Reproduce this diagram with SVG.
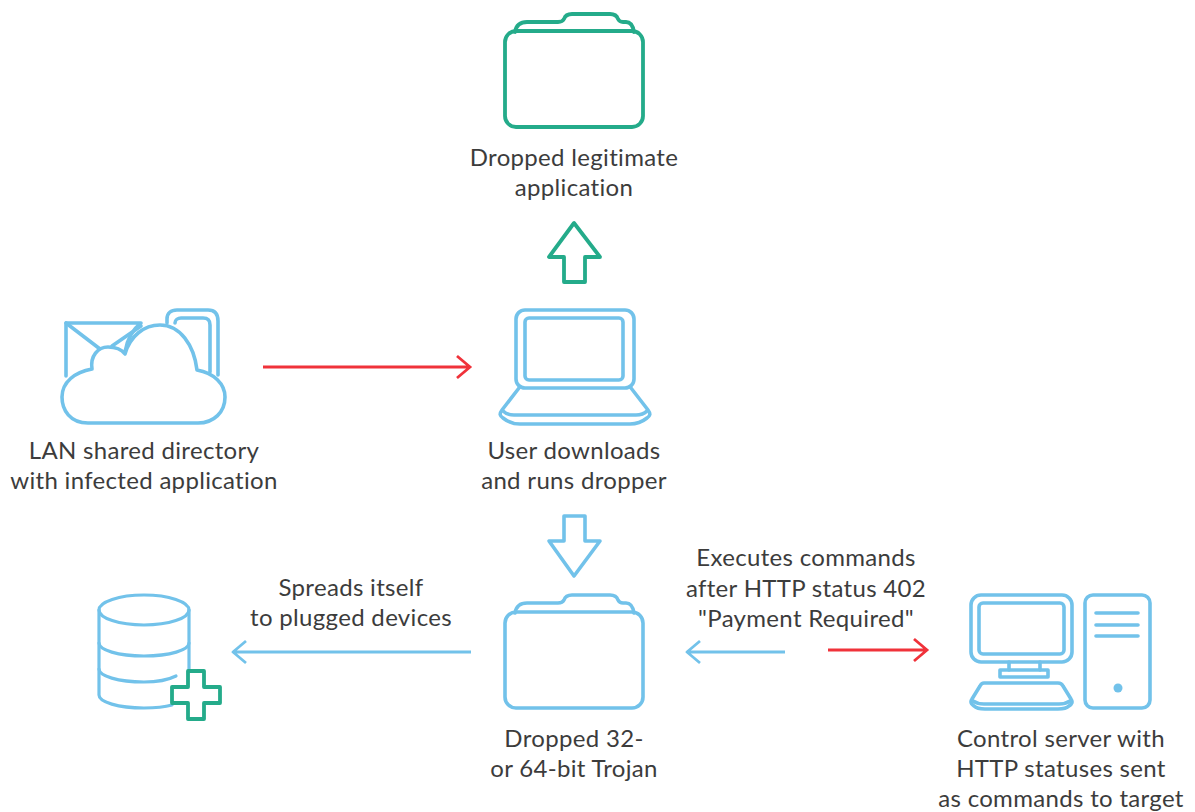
<svg xmlns="http://www.w3.org/2000/svg" width="1195" height="812" viewBox="0 0 1195 812">
<style>
.b{fill:none;stroke:#72c2ea;stroke-width:3.6;stroke-linejoin:round;stroke-linecap:round}
.g{fill:none;stroke:#24ab8a;stroke-width:3.8;stroke-linejoin:round;stroke-linecap:round}
.w{fill:#fff}
.r{fill:none;stroke:#f0323a;stroke-width:2.8}
.a{stroke-width:2.8;stroke-linecap:butt}
.t{font-family:"Lato","Liberation Sans",sans-serif;font-size:24px;letter-spacing:.32px;fill:#3c3c3c;text-anchor:middle}
</style>
<rect width="1195" height="812" fill="#fff"/>
<g id="legit-folder">
<path class="g" d="M515 32C516 26 520 22 527 22H558C562 22 563 21 564 19C565 16 568 14 572 14H610C614 14 617 16 618 19C619 21 620 22 623 22H626C630 22 633 26 634 32"/>
<rect class="g" x="505" y="31" width="138" height="96" rx="11"/>
<text class="t" x="574" y="166">Dropped legitimate</text>
<text class="t" x="574" y="196">application</text>
</g>
<g id="up-arrow"><path class="g" d="M574 223L549 257H564V282H585V257H600Z"/></g>
<g id="lan-directory">
<path class="b" d="M167 323V319C167 313 171 310 177 310H208C215 310 218 314 218 321V375"/>
<path class="b" d="M175 323C175 320 178 318 181 318H203C208 318 210 320 210 325V372"/>
<path class="b" d="M66 376V323H141C132 330 127 340 125 352"/>
<path class="b" d="M66 323L100 349M141 326L112 346"/>
<path class="b w" d="M88 423C70 423 62 410 62 397C62 382 75 372 92 369C90 356 98 347 108 347C116 347 122 350 125 354C130 336 144 325 160 325C180 325 194 345 197 370C214 373 225 384 225 397C225 412 214 423 198 423Z"/>
<text class="t" x="144" y="459">LAN shared directory</text>
<text class="t" x="144" y="489">with infected application</text>
</g>
<g id="laptop">
<rect class="b" x="516" y="310" width="118" height="78" rx="9"/>
<rect class="b" x="525" y="318" width="98" height="62" rx="4"/>
<path class="b" d="M519 388L502 410C499 414 500 416 503 418C508 422 512 424 520 424H630C638 424 642 422 647 418C650 416 651 414 648 410L631 388"/>
<path class="b" d="M503 411C506 414 510 415 514 415H636C640 415 644 414 647 411"/>
<text class="t" x="574" y="459">User downloads</text>
<text class="t" x="574" y="489">and runs dropper</text>
</g>
<g id="down-arrow"><path class="b" d="M574 576L549 541H564V516H585V541H600Z"/></g>
<g id="trojan-folder">
<path class="b" d="M515 613C516 607 520 603 527 603H558C562 603 563 602 564 600C565 597 568 595 572 595H610C614 595 617 597 618 600C619 602 620 603 623 603H626C630 603 633 607 634 613"/>
<rect class="b" x="505" y="612" width="138" height="96" rx="11"/>
<text class="t" x="574" y="747">Dropped 32-</text>
<text class="t" x="574" y="777">or 64-bit Trojan</text>
</g>
<g id="storage">
<ellipse class="b" cx="144" cy="610" rx="45" ry="15" style="stroke-width:3.2"/>
<path class="b" style="stroke-width:3.2" d="M99 610V695C99 702 118 708 144 708C155 708 165 707 172 705M189 610V672"/>
<path class="b" style="stroke-width:3.2" d="M99 643C99 650 118 656 144 656C170 656 189 650 189 643M99 669C99 676 118 682 144 682C158 682 168 680 176 676"/>
<path class="g w" d="M188 671H204V687H220V703H204V719H188V703H172V687H188Z"/>
</g>
<g id="control-server">
<rect class="b" x="971" y="595" width="101" height="67" rx="10"/>
<rect class="b" x="979" y="603" width="85" height="51" rx="4"/>
<path class="b" d="M1009 662V670M1040 662V670"/>
<rect class="b" x="1000" y="670" width="48" height="7"/>
<path class="b" d="M984 683H1058C1061 683 1062 684 1063 686L1071 699C1073 702 1072 704 1069 706C1066 709 1062 709 1058 709H985C981 709 977 709 974 706C971 704 970 702 972 699L980 686C981 684 982 683 984 683Z"/>
<path class="b" d="M973 701C976 703 980 704 984 704H1059C1063 704 1067 703 1070 701"/>
<rect class="b" x="1085" y="595" width="65" height="113" rx="8"/>
<path class="b" d="M1096 613H1138M1096 625H1138M1096 636H1138"/>
<circle cx="1118" cy="688" r="4.5" fill="#72c2ea"/>
<text class="t" x="1061" y="747">Control server with</text>
<text class="t" x="1061" y="777">HTTP statuses sent</text>
<text class="t" x="1061" y="807">as commands to target</text>
</g>
<g id="connectors">
<path class="r" d="M263 367H469M457 356L470 367L457 378"/>
<path class="r" d="M828 650H926M914 639L927 650L914 661"/>
<path class="b a" d="M471 652H234M246 641L233 652L246 663"/>
<path class="b a" d="M785 652H688M700 641L687 652L700 663"/>
<text class="t" x="351" y="596">Spreads itself</text>
<text class="t" x="351" y="626">to plugged devices</text>
<text class="t" x="806" y="566">Executes commands</text>
<text class="t" x="806" y="597">after HTTP status 402</text>
<text class="t" x="806" y="627">"Payment Required"</text>
</g>
</svg>
